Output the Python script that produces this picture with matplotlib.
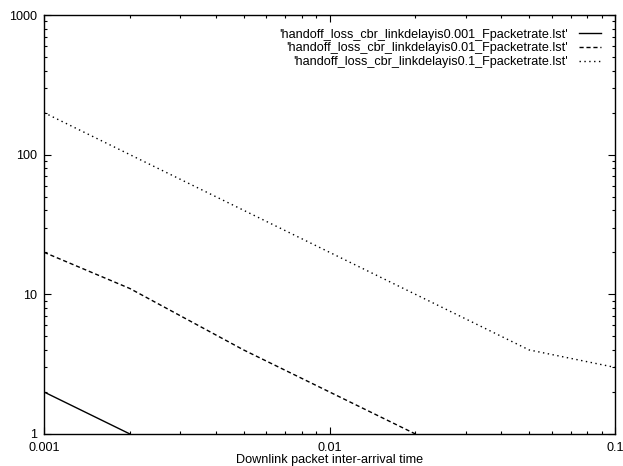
import matplotlib
matplotlib.use("Agg")
from matplotlib import pyplot as plt
import numpy as np

# inter-arrival time (s) and handoff loss for each link delay
x_time = [0.001, 0.002, 0.005, 0.01, 0.02, 0.05, 0.1]
loss_d0001 = [2, 1, 0, 0, 0, 0, 0]
loss_d001 = [20, 11, 4, 2, 1, 0, 0]
loss_d01 = [200, 100, 40, 20, 10, 4, 3]

labels = ["'handoff_loss_cbr_linkdelayis0.001_Fpacketrate.lst'",
          "'handoff_loss_cbr_linkdelayis0.01_Fpacketrate.lst'",
          "'handoff_loss_cbr_linkdelayis0.1_Fpacketrate.lst'"]

xticks = [0.001, 0.01, 0.1]
xticklabels = ["0.001", "0.01", "0.1"]
yticks = [1, 10, 100, 1000]
yticklabels = ["1", "10", "100", "1000"]

plt.rcParams["font.family"] = ["Liberation Sans", "DejaVu Sans"]
plt.rcParams["font.size"] = 9.1

fig = plt.figure(figsize=(6.23, 4.66), dpi=100)
ax = fig.add_axes([44 / 623, 1 - 434 / 466, 571 / 623, 419 / 466])

def masked(v):
    a = np.array(v, dtype=float)
    a[a <= 0] = np.nan
    return a

ax.plot(x_time, masked(loss_d0001), color="black", lw=1.0, label=labels[0])
ax.plot(x_time, masked(loss_d001), color="black", lw=1.0, dashes=(3, 2), label=labels[1])
ax.plot(x_time, masked(loss_d01), color="black", lw=1.0, dashes=(1, 2.5), label=labels[2])

ax.set_xscale("log")
ax.set_yscale("log")
ax.set_xlim(0.001, 0.1)
ax.set_ylim(1, 1000)
ax.set_xticks(xticks)
ax.set_xticklabels(xticklabels)
ax.set_yticks(yticks)
ax.set_yticklabels(yticklabels)
ax.tick_params(which="both", direction="in", top=True, right=True, width=0.8, color="black")
ax.tick_params(which="major", length=5)
ax.tick_params(axis="x", which="major", pad=6)
ax.tick_params(axis="y", which="major", pad=5)
ax.tick_params(which="minor", length=2.5)
for s in ax.spines.values():
    s.set_linewidth(1.0)

ax.set_xlabel("Downlink packet inter-arrival time", labelpad=0)

ax.legend(loc="upper right", frameon=False, markerfirst=False, handlelength=1.75,
          handletextpad=0.85, labelspacing=0.12, borderaxespad=0.7)

fig.savefig("out.png", dpi=100)
